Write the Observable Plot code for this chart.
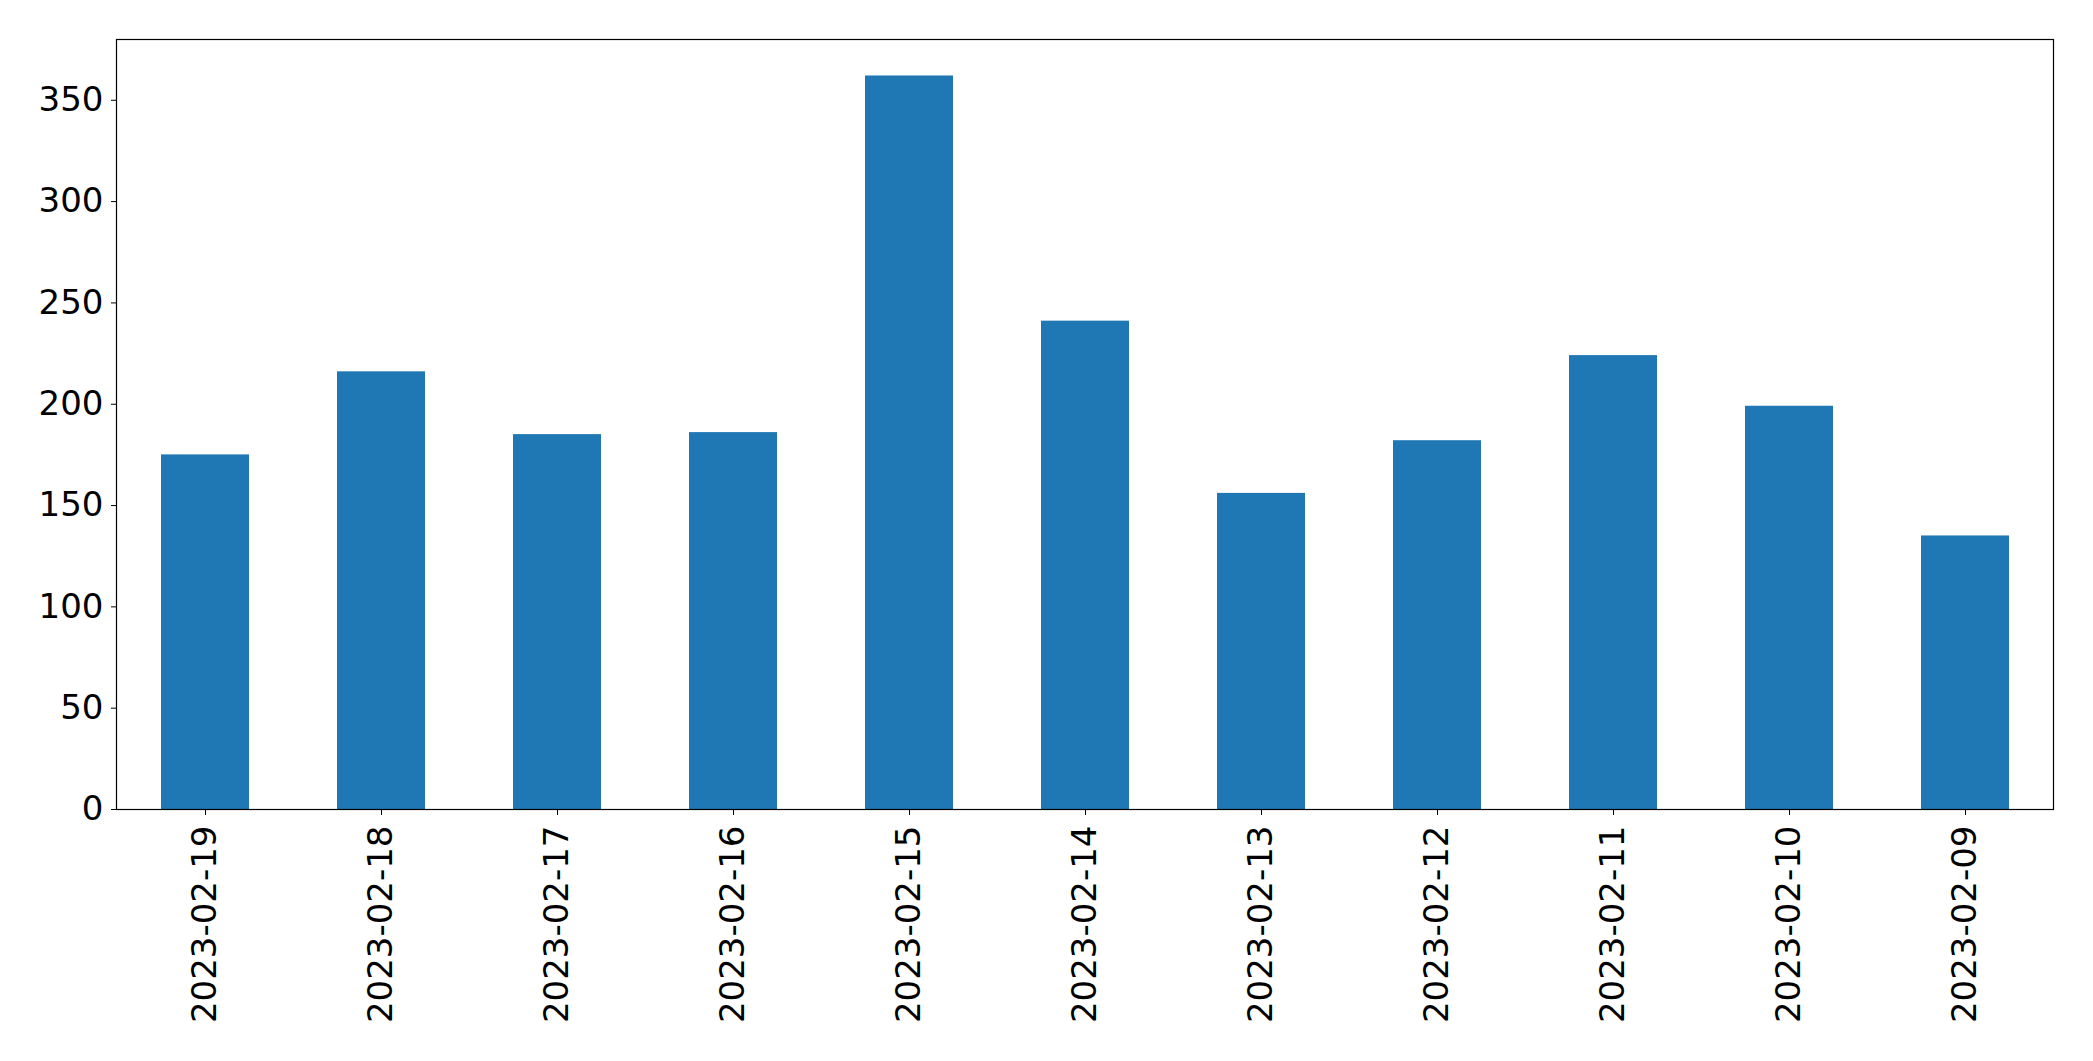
<!DOCTYPE html>
<html>
<head>
<meta charset="utf-8">
<script src="https://cdn.jsdelivr.net/npm/d3@7"></script>
<script src="https://cdn.jsdelivr.net/npm/@observablehq/plot@0.6"></script>
<style>
  html, body { margin: 0; padding: 0; background: white; }
</style>
</head>
<body>
<div id="chart"></div>
<script>
const dates = ["2023-02-19", "2023-02-18", "2023-02-17", "2023-02-16", "2023-02-15", "2023-02-14", "2023-02-13", "2023-02-12", "2023-02-11", "2023-02-10", "2023-02-09"];
const counts = [175, 216, 185, 186, 362, 241, 156, 182, 224, 199, 135];
const yTicks = [0, 50, 100, 150, 200, 250, 300, 350];

const data = dates.map((d, i) => ({date: d, count: counts[i]}));

const chart = Plot.plot({
  width: 2093,
  height: 1061,
  marginLeft: 116,
  marginRight: 40,
  marginTop: 39,
  marginBottom: 252,
  style: {fontFamily: "DejaVu Sans", fontSize: "34px", color: "black", background: "white"},
  x: {domain: dates, paddingInner: 0.5, paddingOuter: 0.25, label: null},
  y: {domain: [0, 380], label: null},
  marks: [
    Plot.barY(data, {x: "date", y: "count", fill: "#1f77b4"}),
    Plot.frame({stroke: "black", strokeWidth: 1.2}),
    Plot.axisY({ticks: yTicks, tickSize: 5, tickPadding: 8, label: null, tickFormat: d => String(d)}),
    Plot.axisX({tickSize: 6, tickPadding: 10, tickRotate: -90, label: null})
  ]
});
document.getElementById("chart").appendChild(chart);
</script>
</body>
</html>
